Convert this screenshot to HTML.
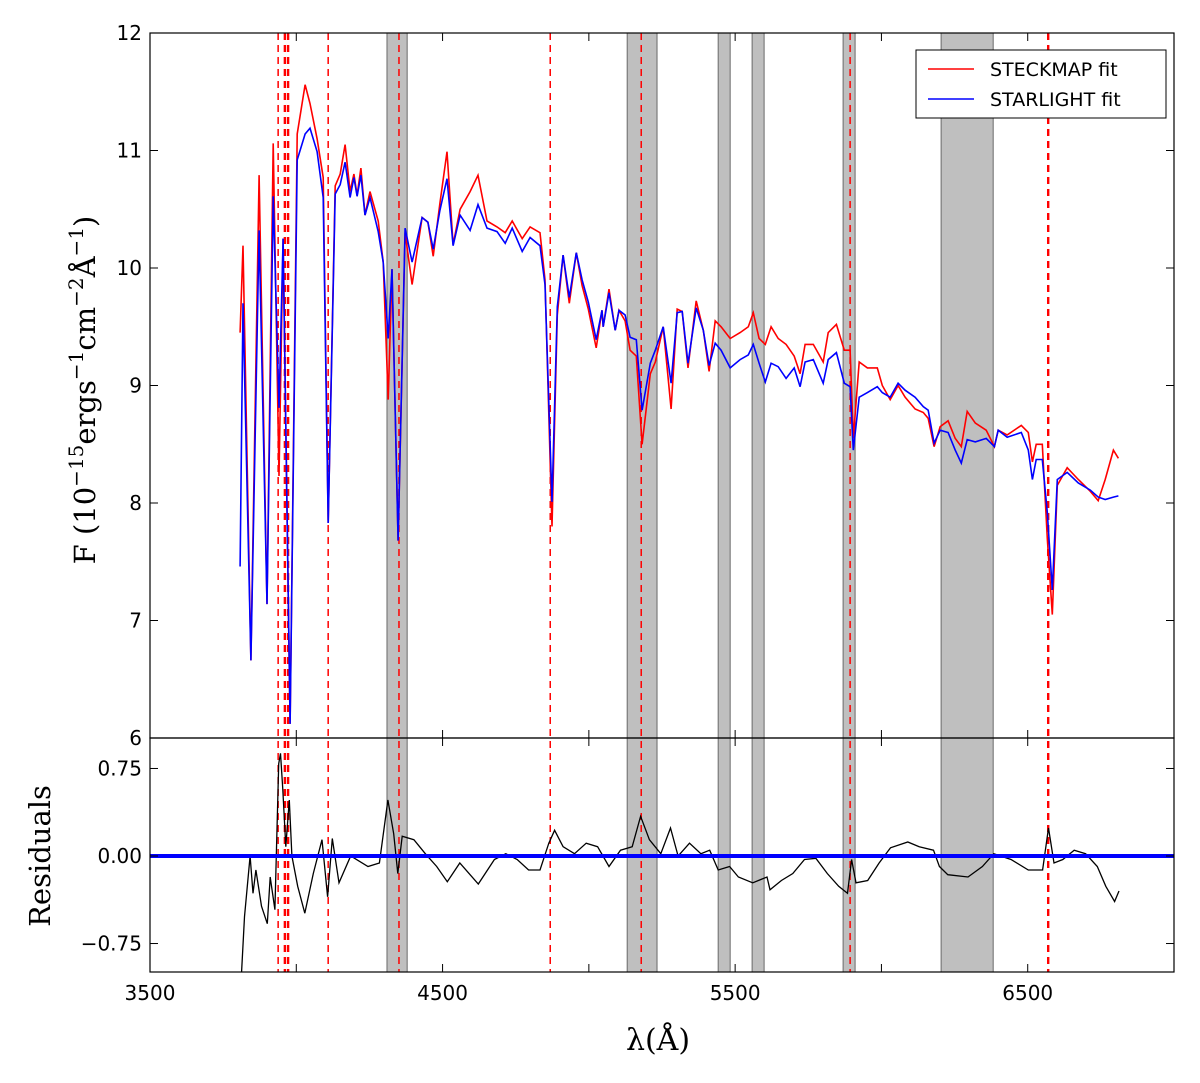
<!DOCTYPE html>
<html><head><meta charset="utf-8">
<style>
html,body{margin:0;padding:0;background:#fff;}
svg{display:block;font-family:"DejaVu Sans","Liberation Sans",sans-serif;}
.serif{font-family:"DejaVu Serif","Liberation Serif",serif;}
</style></head>
<body>
<svg id="chart" width="1200" height="1083" viewBox="0 0 1200 1083" xmlns="http://www.w3.org/2000/svg">
  <g id="bands"></g>
  <g id="vlines"></g>
  <g id="series"></g>
  <g id="axes"></g>
  <g id="legend">
    <rect x="916" y="50" width="250" height="68" fill="#fff" stroke="#000" stroke-width="1"/>
    <line x1="928" y1="69" x2="974" y2="69" stroke="#ff0000" stroke-width="1.5"/>
    <text x="990" y="76" font-size="19">STECKMAP fit</text>
    <line x1="928" y1="99" x2="974" y2="99" stroke="#0000ff" stroke-width="1.5"/>
    <text x="990" y="106" font-size="19">STARLIGHT fit</text>
  </g>
  <text class="serif" x="658" y="1050" font-size="30" text-anchor="middle">λ(Å)</text>
  <text class="serif" transform="translate(95,390) rotate(-90)" font-size="29" text-anchor="middle">F (10<tspan dy="-12" font-size="20">−15</tspan><tspan dy="12">ergs</tspan><tspan dy="-12" font-size="20">−1</tspan><tspan dy="12">cm</tspan><tspan dy="-12" font-size="20">−2</tspan><tspan dy="12">Å</tspan><tspan dy="-12" font-size="20">−1</tspan><tspan dy="12">)</tspan></text>
  <text class="serif" transform="translate(50,856) rotate(-90)" font-size="29" text-anchor="middle">Residuals</text>
</svg>
<script>
const lambdaGrid = [3808,3818,3845,3873,3900,3921,3941,3955,3979,4003,4030,4047,4071,4092,4109,4133,4150,4167,4184,4197,4208,4221,4235,4252,4280,4297,4314,4327,4348,4372,4396,4430,4450,4468,4491,4515,4536,4560,4594,4621,4652,4686,4714,4738,4772,4799,4833,4850,4874,4892,4912,4933,4957,4977,4998,5025,5045,5049,5069,5090,5103,5124,5141,5162,5182,5210,5227,5254,5281,5302,5319,5339,5367,5391,5411,5432,5452,5483,5517,5545,5562,5582,5603,5623,5647,5674,5702,5722,5739,5767,5801,5818,5846,5873,5893,5904,5924,5952,5986,6003,6030,6057,6081,6115,6143,6160,6180,6201,6228,6252,6273,6293,6321,6358,6386,6399,6430,6478,6502,6516,6529,6550,6567,6584,6601,6635,6673,6714,6741,6765,6793,6810];
const starlightFlux = [7.46,9.70,6.66,10.32,7.14,10.61,8.81,10.25,6.12,10.92,11.14,11.19,10.99,10.60,7.83,10.63,10.71,10.90,10.60,10.77,10.61,10.79,10.45,10.60,10.31,10.05,9.40,9.99,7.68,10.34,10.05,10.43,10.39,10.16,10.49,10.76,10.19,10.45,10.32,10.54,10.34,10.31,10.21,10.34,10.14,10.26,10.19,9.86,8.01,9.67,10.11,9.75,10.13,9.90,9.71,9.39,9.64,9.50,9.79,9.47,9.64,9.60,9.41,9.39,8.79,9.19,9.30,9.50,9.02,9.62,9.63,9.19,9.66,9.47,9.17,9.36,9.30,9.15,9.22,9.26,9.35,9.19,9.03,9.19,9.16,9.06,9.15,8.99,9.20,9.22,9.02,9.22,9.28,9.02,8.99,8.45,8.90,8.94,8.99,8.94,8.90,9.02,8.96,8.90,8.82,8.79,8.51,8.62,8.60,8.45,8.34,8.54,8.52,8.55,8.48,8.62,8.56,8.60,8.45,8.20,8.37,8.37,7.92,7.26,8.20,8.26,8.17,8.11,8.05,8.03,8.05,8.06];
const steckmapFlux = [9.45,10.19,6.66,10.79,7.14,11.06,8.23,10.25,6.12,11.14,11.56,11.40,11.10,10.77,7.83,10.70,10.80,11.05,10.65,10.80,10.62,10.85,10.45,10.65,10.40,10.05,8.88,9.99,7.68,10.30,9.86,10.43,10.39,10.10,10.55,10.99,10.20,10.50,10.65,10.79,10.40,10.35,10.30,10.40,10.25,10.35,10.30,9.90,7.80,9.60,10.11,9.70,10.13,9.85,9.65,9.32,9.64,9.50,9.82,9.47,9.64,9.55,9.30,9.25,8.50,9.10,9.20,9.50,8.80,9.65,9.63,9.15,9.72,9.47,9.12,9.55,9.50,9.40,9.45,9.50,9.62,9.40,9.35,9.50,9.40,9.35,9.25,9.10,9.35,9.35,9.20,9.45,9.52,9.30,9.30,8.55,9.20,9.15,9.15,9.00,8.88,9.00,8.90,8.80,8.77,8.72,8.48,8.65,8.70,8.55,8.48,8.78,8.68,8.62,8.48,8.62,8.58,8.66,8.60,8.35,8.50,8.50,7.70,7.05,8.15,8.30,8.20,8.10,8.02,8.20,8.45,8.38];
const residLambda = [3812,3813,3823,3842,3852,3862,3881,3901,3911,3927,3940,3946,3954,3964,3976,3985,4005,4029,4058,4088,4107,4123,4146,4186,4245,4284,4313,4333,4347,4362,4402,4441,4480,4516,4559,4622,4677,4716,4755,4794,4833,4863,4883,4912,4951,4991,5030,5069,5108,5148,5177,5207,5246,5279,5305,5344,5383,5413,5442,5481,5511,5560,5609,5619,5658,5697,5737,5776,5815,5854,5884,5898,5913,5953,5992,6031,6090,6129,6178,6198,6227,6296,6345,6384,6443,6502,6551,6571,6590,6620,6659,6698,6738,6767,6797,6812];
const residValues = [-1.0,-0.99,-0.52,0.0,-0.32,-0.12,-0.43,-0.58,-0.18,-0.46,0.79,0.88,0.57,0.08,0.48,0.0,-0.26,-0.49,-0.15,0.14,-0.35,0.15,-0.23,0.0,-0.09,-0.06,0.48,0.19,-0.15,0.17,0.14,0.02,-0.09,-0.22,-0.06,-0.24,-0.03,0.02,-0.03,-0.12,-0.12,0.11,0.22,0.08,0.02,0.11,0.08,-0.09,0.05,0.08,0.34,0.14,0.02,0.24,0.0,0.11,0.02,0.05,-0.12,-0.09,-0.18,-0.23,-0.18,-0.29,-0.21,-0.15,-0.03,-0.02,-0.15,-0.26,-0.32,-0.03,-0.23,-0.21,-0.06,0.07,0.12,0.08,0.05,-0.09,-0.16,-0.18,-0.09,0.02,-0.03,-0.12,-0.12,0.24,-0.06,-0.03,0.05,0.02,-0.09,-0.26,-0.39,-0.30];
const bandStarts = [4310,5131,5442,5558,5869,6204];
const bandEnds = [4379,5233,5483,5599,5910,6382];
const lineLambdas = [3938,3961,3972,4109,4351,4868,5179,5893,6570];
const lineHeavy = [false,true,true,false,false,false,false,false,true];
const xTicks = [3500,4000,4500,5000,5500,6000,6500,7000];
const xTickLabels = ["3500","","4500","","5500","","6500",""];
const yTicks = [6,7,8,9,10,11,12];
const rTicks = [-0.75,0,0.75];
const rTickLabels = ["−0.75","0.00","0.75"];

const NS="http://www.w3.org/2000/svg";
const L=150,R=1174,T=33,MB=738,RB=972;
const xS=v=>L+(v-3500)/3500*(R-L);
const yS=v=>MB-(v-6)/6*(MB-T);
const rS=v=>856-v*116.7;
function mk(tag,attrs,parent){const e=document.createElementNS(NS,tag);for(const k in attrs)e.setAttribute(k,attrs[k]);parent.appendChild(e);return e;}
const bands=document.getElementById('bands'),vl=document.getElementById('vlines'),ser=document.getElementById('series'),ax=document.getElementById('axes');

bandStarts.forEach((s,i)=>{
  for(const [y0,y1] of [[T,MB],[MB,RB]]){
    const r=mk('rect',{x:xS(s),y:y0,width:xS(bandEnds[i])-xS(s),height:y1-y0,fill:'#bfbfbf',stroke:'#6a6a6a','stroke-width':1},bands);
    
    
  }
});
lineLambdas.forEach((l,i)=>{
  const e=mk('line',{x1:xS(l),x2:xS(l),y1:T,y2:RB,stroke:'#ff0000','stroke-width':lineHeavy[i]?2.4:1.5,'stroke-dasharray':'7,5'},vl);
  
  
});
function path(xs,ys,fy){return xs.map((x,i)=>(i?'L':'M')+xS(x).toFixed(1)+','+fy(ys[i]).toFixed(1)).join('');}
const cp=mk('clipPath',{id:'cm'},ser);mk('rect',{x:L,y:T,width:R-L,height:MB-T},cp);
const cr=mk('clipPath',{id:'cr'},ser);mk('rect',{x:L,y:MB,width:R-L,height:RB-MB},cr);
const red=mk('path',{d:path(lambdaGrid,steckmapFlux,yS),fill:'none',stroke:'#ff0000','stroke-width':1.6,'clip-path':'url(#cm)'},ser);


const blue=mk('path',{d:path(lambdaGrid,starlightFlux,yS),fill:'none',stroke:'#0000ff','stroke-width':1.6,'clip-path':'url(#cm)'},ser);


const res=mk('path',{d:path(residLambda,residValues,rS),fill:'none',stroke:'#000','stroke-width':1.3,'clip-path':'url(#cr)'},ser);


const zl=mk('line',{x1:L,x2:R,y1:rS(0),y2:rS(0),stroke:'#0000ff','stroke-width':4},ser);



const f1=mk('rect',{x:L,y:T,width:R-L,height:MB-T,fill:'none',stroke:'#000','stroke-width':1.2},ax);


const f2=mk('rect',{x:L,y:MB,width:R-L,height:RB-MB,fill:'none',stroke:'#000','stroke-width':1.2},ax);


xTicks.forEach((t,i)=>{
  const x=xS(t);
  for(const [a,b] of [[RB,RB-8],[MB,MB-8],[MB,MB+8],[T,T+8]]){mk('line',{x1:x,x2:x,y1:a,y2:b,stroke:'#000','stroke-width':1},ax);}
  if(xTickLabels[i]){
    const tx=mk('text',{x:x,y:RB+28,'font-size':20,'text-anchor':'middle'},ax);tx.textContent=xTickLabels[i];
    
    
  }
});
yTicks.forEach(t=>{
  const y=yS(t);
  mk('line',{x1:L,x2:L+8,y1:y,y2:y,stroke:'#000'},ax);mk('line',{x1:R,x2:R-8,y1:y,y2:y,stroke:'#000'},ax);
  const tx=mk('text',{x:L-8,y:y+7,'font-size':20,'text-anchor':'end'},ax);tx.textContent=t;
  
  
});
rTicks.forEach((t,i)=>{
  const y=rS(t);
  mk('line',{x1:L,x2:L+8,y1:y,y2:y,stroke:'#000'},ax);mk('line',{x1:R,x2:R-8,y1:y,y2:y,stroke:'#000'},ax);
  const tx=mk('text',{x:L-8,y:y+7,'font-size':20,'text-anchor':'end'},ax);tx.textContent=rTickLabels[i];
  
  
});
</script>
</body></html>
